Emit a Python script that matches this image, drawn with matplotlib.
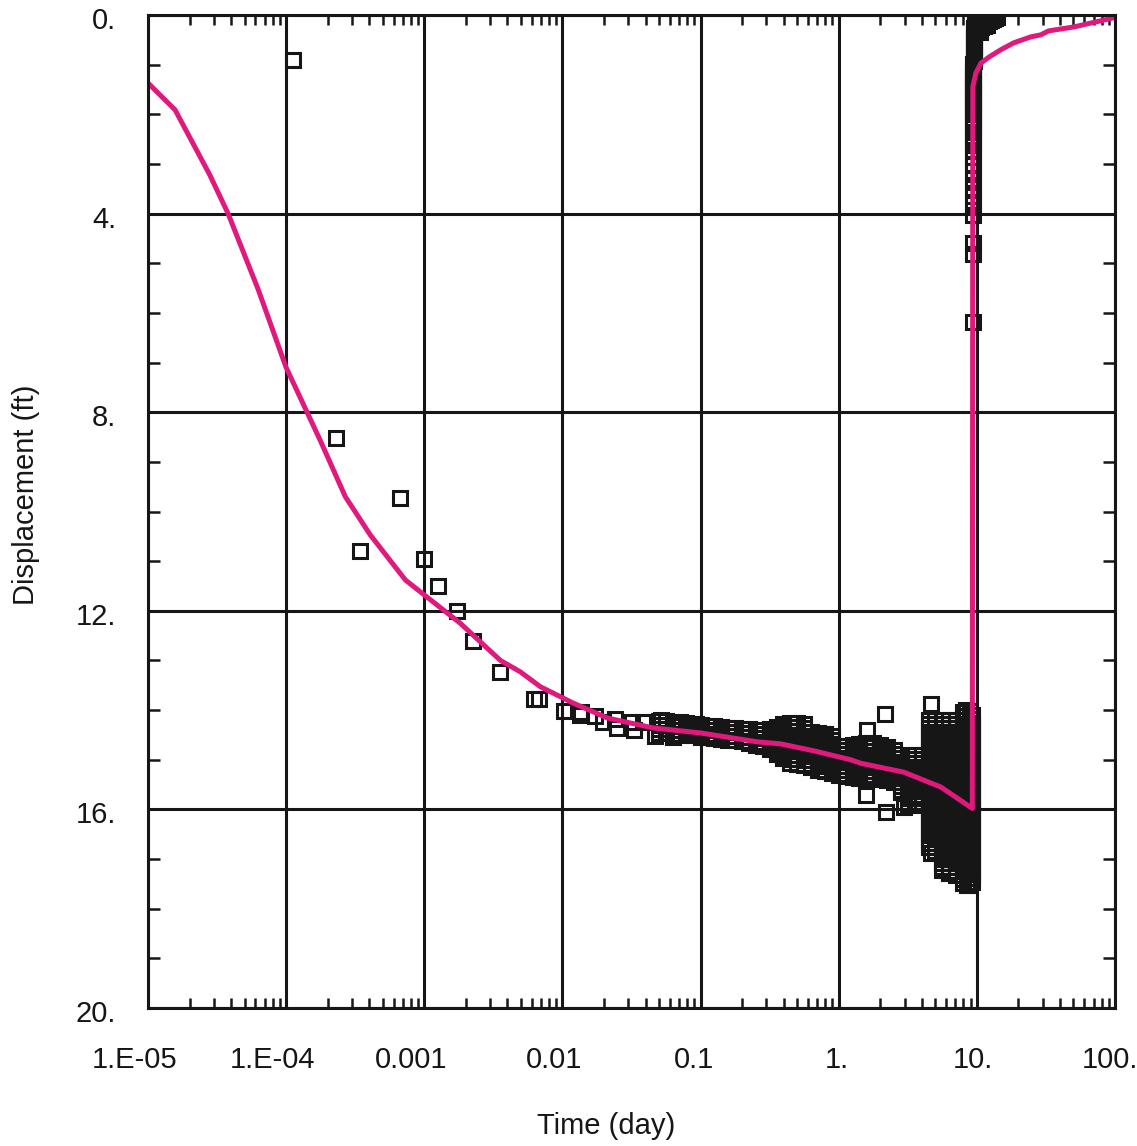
import matplotlib
matplotlib.use("Agg")
import matplotlib.pyplot as plt
from matplotlib.ticker import FixedLocator, NullFormatter
from matplotlib.transforms import ScaledTranslation

# ---------------- data ----------------
# early (sparse) observations
obs_t = [1.12e-4, 2.30e-4, 3.44e-4, 6.70e-4, 1.00e-3, 1.26e-3, 1.73e-3, 2.27e-3,
         3.56e-3, 6.27e-3, 6.80e-3, 1.02e-2, 1.33e-2, 1.37e-2, 1.73e-2, 1.98e-2,
         2.42e-2, 2.50e-2, 3.21e-2, 3.32e-2, 3.86e-2, 4.64e-2, 5.13e-2, 6.27e-2,
         6.27e-2, 7.16e-2, 8.19e-2, 9.20e-2]
obs_s = [0.90, 8.52, 10.80, 9.73, 10.96, 11.50, 12.00, 12.61,
         13.23, 13.78, 13.78, 14.02, 14.10, 14.04, 14.12, 14.24,
         14.18, 14.36, 14.24, 14.40, 14.24, 14.52, 14.20, 14.26,
         14.54, 14.28, 14.50, 14.28]

# dense (oscillating) pumping-period record: times and the readings at each time
band_t = [0.050, 0.056, 0.063, 0.071, 0.079, 0.089, 0.100, 0.112, 0.126, 0.141,
          0.158, 0.178, 0.200, 0.224, 0.251, 0.282, 0.316, 0.355, 0.398, 0.447,
          0.501, 0.562, 0.631, 0.708, 0.794, 0.891, 1.00, 1.12, 1.26, 1.41,
          1.58, 1.78, 2.00, 2.24, 2.51, 2.82, 3.16, 3.55, 3.98, 4.47,
          5.01, 5.62, 6.31, 7.08, 7.94, 8.91, 9.25]
band_s = [
    [14.22, 14.30, 14.38, 14.46],
    [14.22, 14.30, 14.38, 14.46],
    [14.24, 14.32, 14.40, 14.48],
    [14.24, 14.32, 14.40, 14.48],
    [14.26, 14.34, 14.42, 14.48],
    [14.28, 14.36, 14.44, 14.50],
    [14.30, 14.38, 14.46, 14.54],
    [14.32, 14.40, 14.48, 14.55],
    [14.33, 14.41, 14.49, 14.56],
    [14.34, 14.42, 14.50, 14.58],
    [14.36, 14.44, 14.52, 14.60],
    [14.36, 14.44, 14.52, 14.60],
    [14.38, 14.46, 14.54, 14.62],
    [14.38, 14.46, 14.54, 14.62, 14.66],
    [14.40, 14.48, 14.56, 14.64, 14.70],
    [14.40, 14.48, 14.56, 14.64, 14.72],
    [14.38, 14.46, 14.54, 14.62, 14.70, 14.78],
    [14.34, 14.42, 14.50, 14.58, 14.66, 14.74, 14.82, 14.88],
    [14.28, 14.36, 14.44, 14.52, 14.60, 14.68, 14.76, 14.84, 14.92, 14.96],
    [14.26, 14.34, 14.42, 14.50, 14.58, 14.66, 14.74, 14.82, 14.90, 14.98, 15.06],
    [14.26, 14.34, 14.42, 14.50, 14.58, 14.66, 14.74, 14.82, 14.90, 14.98, 15.08],
    [14.28, 14.36, 14.44, 14.52, 14.60, 14.68, 14.76, 14.84, 14.92, 15.00, 15.10],
    [14.44, 14.52, 14.60, 14.68, 14.76, 14.84, 14.92, 15.00, 15.08, 15.14],
    [14.46, 14.54, 14.62, 14.70, 14.78, 14.86, 14.94, 15.02, 15.10, 15.20],
    [14.48, 14.56, 14.64, 14.72, 14.80, 14.88, 14.96, 15.04, 15.12, 15.22],
    [14.52, 14.60, 14.68, 14.76, 14.84, 14.92, 15.00, 15.08, 15.16, 15.26],
    [14.72, 14.80, 14.88, 14.96, 15.04, 15.12, 15.20, 15.30],
    [14.72, 14.80, 14.88, 14.96, 15.04, 15.12, 15.20, 15.28, 15.32],
    [14.70, 14.78, 14.86, 14.94, 15.02, 15.10, 15.18, 15.26, 15.34],
    [14.68, 14.76, 14.84, 14.92, 15.00, 15.08, 15.16, 15.24, 15.32, 15.36],
    [14.66, 14.74, 14.82, 14.90, 14.98, 15.06, 15.14, 15.22, 15.30, 15.37],
    [14.66, 14.74, 14.82, 14.90, 14.98, 15.06, 15.14, 15.22, 15.30, 15.37],
    [14.70, 14.78, 14.86, 14.94, 15.02, 15.10, 15.18, 15.26, 15.34, 15.38],
    [14.74, 14.82, 14.90, 14.98, 15.06, 15.14, 15.22, 15.30, 15.38, 15.40],
    [14.80, 14.88, 14.96, 15.04, 15.12, 15.20, 15.28, 15.36, 15.45],
    [14.96, 15.04, 15.12, 15.20, 15.28, 15.36, 15.44, 15.52, 15.60, 15.65],
    [14.90, 14.98, 15.06, 15.14, 15.22, 15.30, 15.38, 15.46, 15.54, 15.62,
     15.70, 15.78, 15.86, 15.91],
    [14.90, 14.98, 15.06, 15.14, 15.22, 15.30, 15.38, 15.46, 15.54, 15.62,
     15.70, 15.78, 15.86, 15.91],
    [14.90, 14.98, 15.06, 15.14, 15.22, 15.30, 15.38, 15.46, 15.54, 15.62,
     15.70, 15.78, 15.86, 15.90],
    [14.20, 14.28, 14.36, 14.44, 14.52, 14.60, 14.68, 14.76, 14.84, 14.92,
     15.00, 15.08, 15.16, 15.24, 15.32, 15.40, 15.48, 15.56, 15.64, 15.72,
     15.80, 15.88, 15.96, 16.04, 16.12, 16.20, 16.28, 16.36, 16.44, 16.52,
     16.60, 16.68, 16.76],
    [14.20, 14.28, 14.36, 14.44, 14.52, 14.60, 14.68, 14.76, 14.84, 14.92,
     15.00, 15.08, 15.16, 15.24, 15.32, 15.40, 15.48, 15.56, 15.64, 15.72,
     15.80, 15.88, 15.96, 16.04, 16.12, 16.20, 16.28, 16.36, 16.44, 16.52,
     16.60, 16.68, 16.76, 16.84],
    [14.20, 14.28, 14.36, 14.44, 14.52, 14.60, 14.68, 14.76, 14.84, 14.92,
     15.00, 15.08, 15.16, 15.24, 15.32, 15.40, 15.48, 15.56, 15.64, 15.72,
     15.80, 15.88, 15.96, 16.04, 16.12, 16.20, 16.28, 16.36, 16.44, 16.52,
     16.60, 16.68, 16.76, 16.84, 16.92, 17.00, 17.08, 17.16, 17.22],
    [14.20, 14.28, 14.36, 14.44, 14.52, 14.60, 14.68, 14.76, 14.84, 14.92,
     15.00, 15.08, 15.16, 15.24, 15.32, 15.40, 15.48, 15.56, 15.64, 15.72,
     15.80, 15.88, 15.96, 16.04, 16.12, 16.20, 16.28, 16.36, 16.44, 16.52,
     16.60, 16.68, 16.76, 16.84, 16.92, 17.00, 17.08, 17.16, 17.24, 17.28],
    [14.20, 14.28, 14.36, 14.44, 14.52, 14.60, 14.68, 14.76, 14.84, 14.92,
     15.00, 15.08, 15.16, 15.24, 15.32, 15.40, 15.48, 15.56, 15.64, 15.72,
     15.80, 15.88, 15.96, 16.04, 16.12, 16.20, 16.28, 16.36, 16.44, 16.52,
     16.60, 16.68, 16.76, 16.84, 16.92, 17.00, 17.08, 17.16, 17.24, 17.32],
    [14.04, 14.12, 14.20, 14.28, 14.36, 14.44, 14.52, 14.60, 14.68, 14.76,
     14.84, 14.92, 15.00, 15.08, 15.16, 15.24, 15.32, 15.40, 15.48, 15.56,
     15.64, 15.72, 15.80, 15.88, 15.96, 16.04, 16.12, 16.20, 16.28, 16.36,
     16.44, 16.52, 16.60, 16.68, 16.76, 16.84, 16.92, 17.00, 17.08, 17.16,
     17.24, 17.32, 17.40, 17.48],
    [14.02, 14.10, 14.18, 14.26, 14.34, 14.42, 14.50, 14.58, 14.66, 14.74,
     14.82, 14.90, 14.98, 15.06, 15.14, 15.22, 15.30, 15.38, 15.46, 15.54,
     15.62, 15.70, 15.78, 15.86, 15.94, 16.02, 16.10, 16.18, 16.26, 16.34,
     16.42, 16.50, 16.58, 16.66, 16.74, 16.82, 16.90, 16.98, 17.06, 17.14,
     17.22, 17.30, 17.38, 17.46, 17.52],
    [14.10, 14.18, 14.26, 14.34, 14.42, 14.50, 14.58, 14.66, 14.74, 14.82,
     14.90, 14.98, 15.06, 15.14, 15.22, 15.30, 15.38, 15.46, 15.54, 15.62,
     15.70, 15.78, 15.86, 15.94, 16.02, 16.10, 16.18, 16.26, 16.34, 16.42,
     16.50, 16.58, 16.66, 16.74, 16.82, 16.90, 16.98, 17.06, 17.14, 17.22,
     17.30, 17.38, 17.46],
]

# isolated outliers during the late pumping period
out_t = [1.60, 1.58, 2.15, 2.20, 2.96, 4.64, 4.64, 6.27, 8.32, 8.50]
out_s = [14.40, 15.71, 14.08, 16.05, 15.95, 13.88, 16.88, 17.28, 14.00, 17.52]

# recovery record
rec_t = [9.30, 9.30, 9.30, 9.31, 9.31, 9.31, 9.31, 9.32, 9.32, 9.32,
         9.32, 9.33, 9.33, 9.33, 9.33, 9.34, 9.34, 9.34, 9.35, 9.35,
         9.35, 9.36, 9.36, 9.36, 9.37, 9.37, 9.38, 9.38, 9.39, 9.39,
         9.40, 9.40, 9.41, 9.42, 9.42, 9.43, 9.44, 9.45, 9.46, 9.47,
         9.48, 9.49, 9.50, 9.51, 9.52, 9.54, 9.55, 9.57, 9.59, 9.61,
         9.63, 9.66, 9.69]
rec_s = [6.18, 4.81, 4.59, 4.03, 3.81, 3.65, 3.48, 3.30, 3.14, 3.00,
         2.86, 2.74, 2.62, 2.52, 2.44, 2.36, 2.28, 2.21, 2.14, 2.07,
         2.00, 1.94, 1.88, 1.82, 1.76, 1.70, 1.64, 1.58, 1.52, 1.46,
         1.40, 1.34, 1.28, 1.22, 1.16, 1.10, 1.04, 0.98, 0.92, 0.86,
         0.80, 0.74, 0.68, 0.62, 0.56, 0.50, 0.44, 0.38, 0.32, 0.26,
         0.20, 0.14, 0.08]
rec2_t = [9.75, 9.90, 10.1, 10.3, 10.5, 10.7, 10.9, 11.2, 11.5, 11.8,
          12.2, 12.6, 13.0, 13.5, 14.0]
rec2_s = [0.30, 0.22, 0.32, 0.26, 0.34, 0.24, 0.18, 0.22, 0.16, 0.20,
          0.12, 0.10, 0.08, 0.06, 0.04]

# fitted model curve
fit_t = [1.0e-5, 1.57e-5, 2.8e-5, 3.8e-5, 6.3e-5, 1.0e-4, 1.76e-4, 2.68e-4,
         4.06e-4, 7.3e-4, 1.0e-3, 1.82e-3, 3.56e-3, 4.96e-3, 6.93e-3, 0.012,
         0.0212, 0.0456, 0.1, 0.259, 0.38, 0.66, 1.22, 1.44, 2.96, 5.49,
         9.27, 9.35, 9.83, 10.7, 12.2, 14.9, 18.5, 24.6, 29.0, 33.0, 50.5, 100.0]
fit_s = [1.37, 1.91, 3.22, 4.00, 5.54, 7.10, 8.56, 9.70,
         10.47, 11.38, 11.68, 12.25, 13.00, 13.23, 13.53, 13.86,
         14.16, 14.36, 14.46, 14.64, 14.68, 14.82, 15.00, 15.07, 15.25, 15.55,
         15.98, 1.45, 1.17, 0.97, 0.85, 0.70, 0.56, 0.44, 0.40, 0.32, 0.24, 0.05]

xtick_vals = [1e-5, 1e-4, 1e-3, 1e-2, 1e-1, 1, 10, 100]
xtick_labels = ["1.E-05", "1.E-04", "0.001", "0.01", "0.1", "1.", "10.", "100."]
ytick_vals = [0, 4, 8, 12, 16, 20]
ytick_labels = ["0.", "4.", "8.", "12.", "16.", "20."]

# ---------------- style ----------------
FS = 21
plt.rcParams['font.family'] = ['Liberation Sans', 'DejaVu Sans']

W, H = 1137, 1146
fig = plt.figure(figsize=(W / 100, H / 100), dpi=100)
ax = fig.add_axes([148 / W, 1 - 1008 / H, 967 / W, 993 / H])

ax.set_xscale('log')
ax.set_xlim(1e-5, 100)
ax.set_ylim(20, 0)

black = '#161616'
mk = dict(marker='s', linestyle='none', markersize=10.2, markeredgewidth=2.2,
          markerfacecolor='none', markeredgecolor=black, zorder=3)

ax.plot(obs_t, obs_s, **mk)
bt, bs = [], []
for t, vals in zip(band_t, band_s):
    for v in vals:
        bt.append(t)
        bs.append(v)
ax.plot(bt, bs, **mk)
ax.plot(out_t, out_s, **mk)
ax.plot(rec_t, rec_s, **mk)
ax.plot(rec2_t, rec2_s, **mk)

ax.plot(fit_t, fit_s, color='#E0197D', linewidth=3.6, solid_joinstyle='round', zorder=4)

# grid & ticks
ax.xaxis.set_major_locator(FixedLocator(xtick_vals))
ax.set_xticklabels(xtick_labels)
minors = [m * 10.0 ** e for e in range(-5, 2) for m in range(2, 10)]
ax.xaxis.set_minor_locator(FixedLocator(minors))
ax.xaxis.set_minor_formatter(NullFormatter())
ax.yaxis.set_major_locator(FixedLocator(ytick_vals))
ax.set_yticklabels(ytick_labels)
ax.yaxis.set_minor_locator(FixedLocator([v for v in range(1, 20) if v % 4 != 0]))

ax.grid(True, which='major', color=black, linewidth=2.2, zorder=1)
ax.set_axisbelow(True)
ax.tick_params(which='major', length=0, labelsize=FS, colors=black)
ax.tick_params(axis='x', which='major', pad=27)
ax.tick_params(axis='y', which='major', pad=23)
ax.tick_params(which='minor', direction='in', top=True, bottom=True, left=True,
               right=True, width=1.8, color=black)
ax.tick_params(axis='x', which='minor', length=7.5)
ax.tick_params(axis='y', which='minor', length=8.5)
for sp in ax.spines.values():
    sp.set_linewidth(2.2)
    sp.set_color(black)
    sp.set_zorder(5)

offsets = [-13, -14, -13, -8, -7, -2, -4, -5]
for lab, dx in zip(ax.get_xticklabels(), offsets):
    lab.set_transform(lab.get_transform() + ScaledTranslation(dx / 100, 0, fig.dpi_scale_trans))
for lab in ax.get_yticklabels():
    lab.set_transform(lab.get_transform() + ScaledTranslation(0, -3 / 100, fig.dpi_scale_trans))

fig.text(606 / W, 1 - 1126 / H, "Time (day)", ha='center', va='center',
         fontsize=FS, color=black)
fig.text(26 / W, 1 - 495 / H, "Displacement (ft)", ha='center', va='center',
         rotation=90, fontsize=FS, color=black)

fig.savefig("out.png", dpi=100)
